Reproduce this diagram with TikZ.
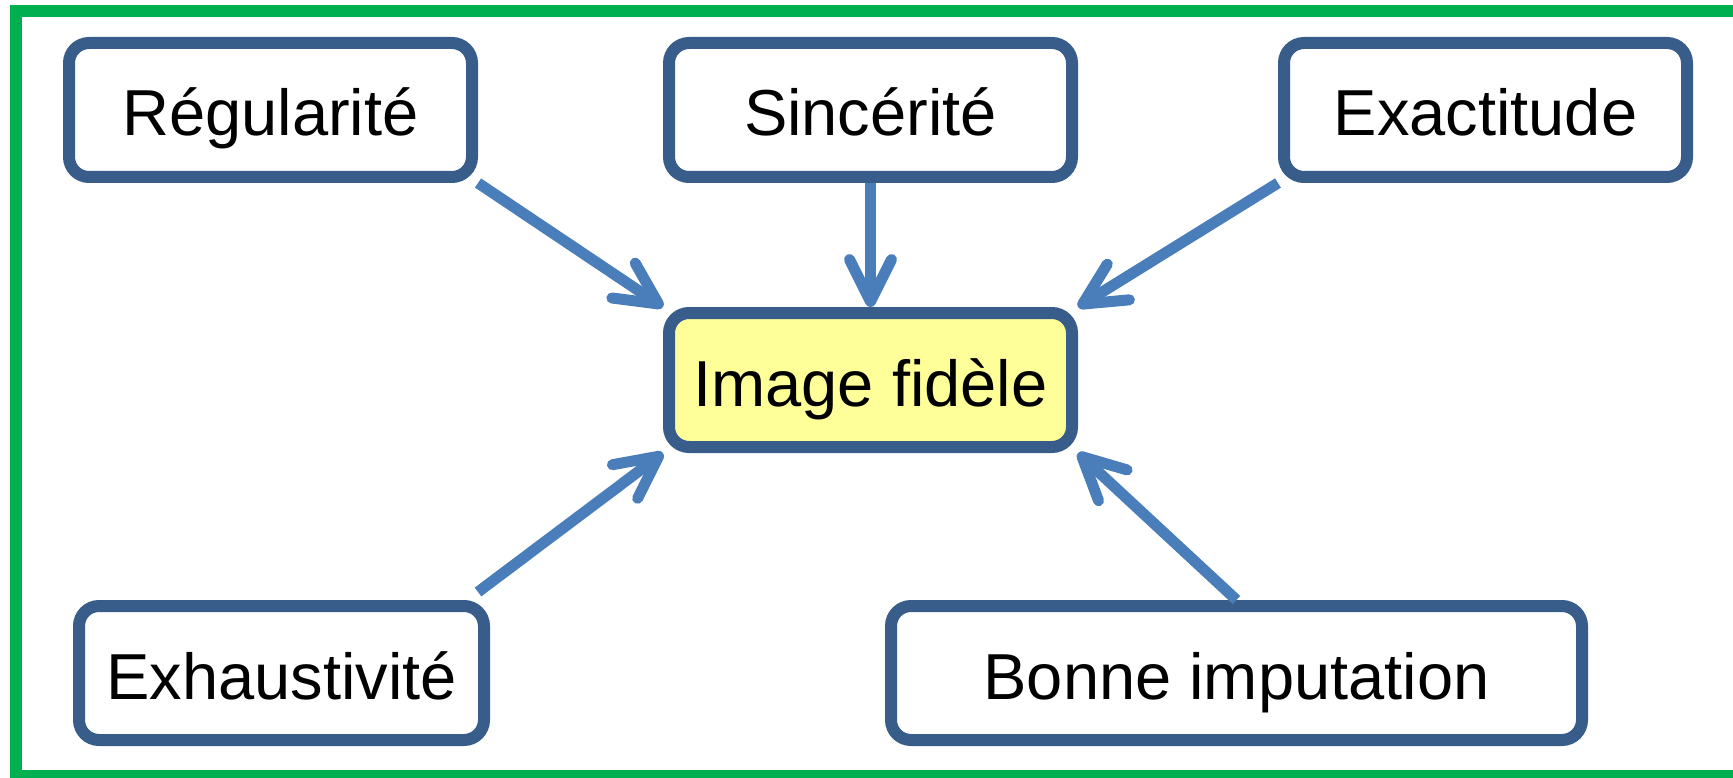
\documentclass[tikz,border=0pt]{standalone}
\usepackage{fontspec}
\setmainfont{Liberation Sans}
\usetikzlibrary{arrows.meta}
\definecolor{frameGreen}{HTML}{00B050}
\definecolor{boxBlue}{HTML}{385D8A}
\definecolor{arrowBlue}{HTML}{4A7EBB}
\definecolor{paleYellow}{HTML}{FFFF99}
\begin{document}
\begin{tikzpicture}[x=1pt,y=-1pt,
  box/.style={draw=boxBlue, line width=12pt, rounded corners=20pt, fill=white,
    minimum height=134pt, inner sep=0pt, text height=52pt, text depth=0pt,
    font=\fontsize{65}{70}\selectfont, text=black},
  link/.style={draw=arrowBlue, line width=11pt,
    -{Straight Barb[length=42pt,width=42pt,round]}}]
\useasboundingbox (0,0) rectangle (1733,778);
\begin{scope}
  \clip (0,0) rectangle (1733,778);
  \draw[frameGreen, line width=12pt] (16,11) rectangle (1745,776);
\end{scope}
\node[box, minimum width=403pt] (reg) at (270.5,110) {Régularité};
\node[box, minimum width=403pt] (sin) at (870.5,110) {Sincérité};
\node[box, minimum width=403pt] (exa) at (1485.5,110) {Exactitude};
\node[box, minimum width=403pt, fill=paleYellow] (img) at (870.5,380) {Image fidèle};
\node[box, minimum width=405pt] (exh) at (281.5,673) {Exhaustivité};
\node[box, minimum width=691pt] (bon) at (1236.5,673) {Bonne imputation};
\draw[link] (reg.south east) -- (img.north west);
\draw[link] (sin.south) -- (img.north);
\draw[link] (exa.south west) -- (img.north east);
\coordinate (exhstart) at ([shift={(-12,-8)}]exh.north east);
\draw[link] (exhstart) -- (img.south west);
\draw[link] (bon.north) -- (img.south east);
\end{tikzpicture}
\end{document}
